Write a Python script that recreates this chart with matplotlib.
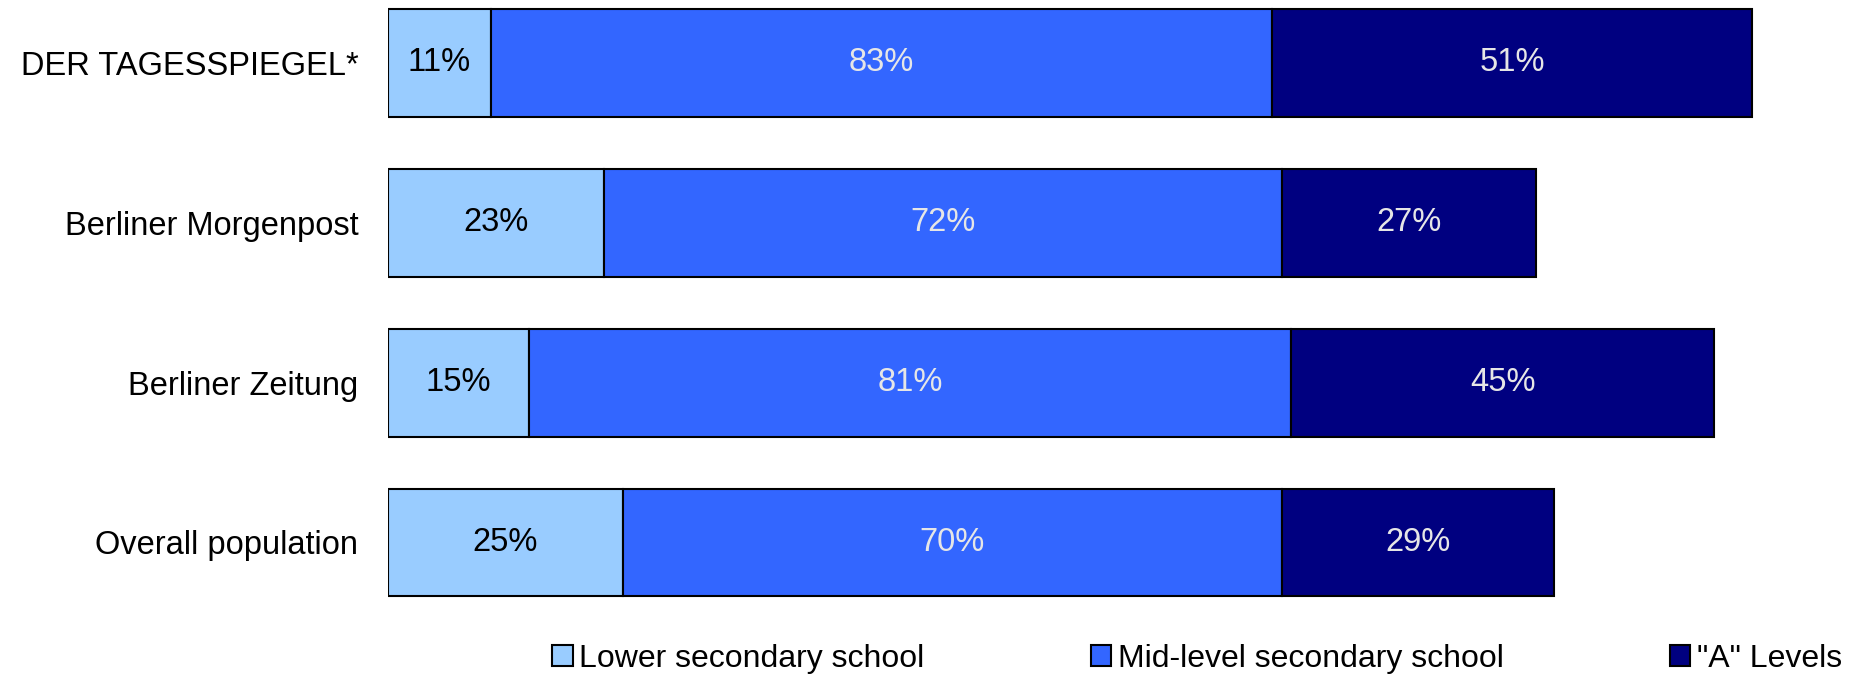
import numpy as np
import matplotlib
matplotlib.use('Agg')
import matplotlib.pyplot as plt

plt.rcParams['font.family'] = ['Liberation Sans', 'DejaVu Sans']

papers = ['DER TAGESSPIEGEL*', 'Berliner Morgenpost', 'Berliner Zeitung', 'Overall population']
series = ['Lower secondary school', 'Mid-level secondary school', '"A" Levels']
lower = [11, 23, 15, 25]
mid = [83, 72, 81, 70]
a_levels = [51, 27, 45, 29]

colors = ['#99CCFF', '#3366FF', '#000080']
text_colors = ['black', '#E6E6E6', '#E6E6E6']

fig = plt.figure(figsize=(18.58, 6.75), dpi=100)
ax = fig.add_axes([0.2086, 0.0778, 0.7597, 0.948])

y = np.arange(len(papers))[::-1]
left = np.zeros(len(papers))
for vals, name, col, tc in zip([lower, mid, a_levels], series, colors, text_colors):
    vals = np.array(vals)
    ax.barh(y, vals, left=left, height=0.675, color=col,
            edgecolor='black', linewidth=1.5, label=name)
    for yi, l, v in zip(y, left, vals):
        ax.text(l + v / 2, yi, f'{v}%', ha='center', va='center',
                fontsize=23.5, color=tc)
    left = left + vals

ax.set_xlim(0, 150)
ax.set_ylim(-0.5, 3.5)
ax.set_yticks(y)
ax.set_yticklabels(papers, fontsize=23.5)
ax.tick_params(axis='y', length=0, pad=21)
ax.set_xticks([])
for s in ax.spines.values():
    s.set_visible(False)

fig.legend(loc='center left', bbox_to_anchor=(0.2971, 0.024), ncol=3,
           frameon=False, fontsize=23, handlelength=0.65, handleheight=0.65,
           handletextpad=0.2, columnspacing=5.2, borderpad=0, borderaxespad=0)

fig.savefig('out.png', dpi=100)
